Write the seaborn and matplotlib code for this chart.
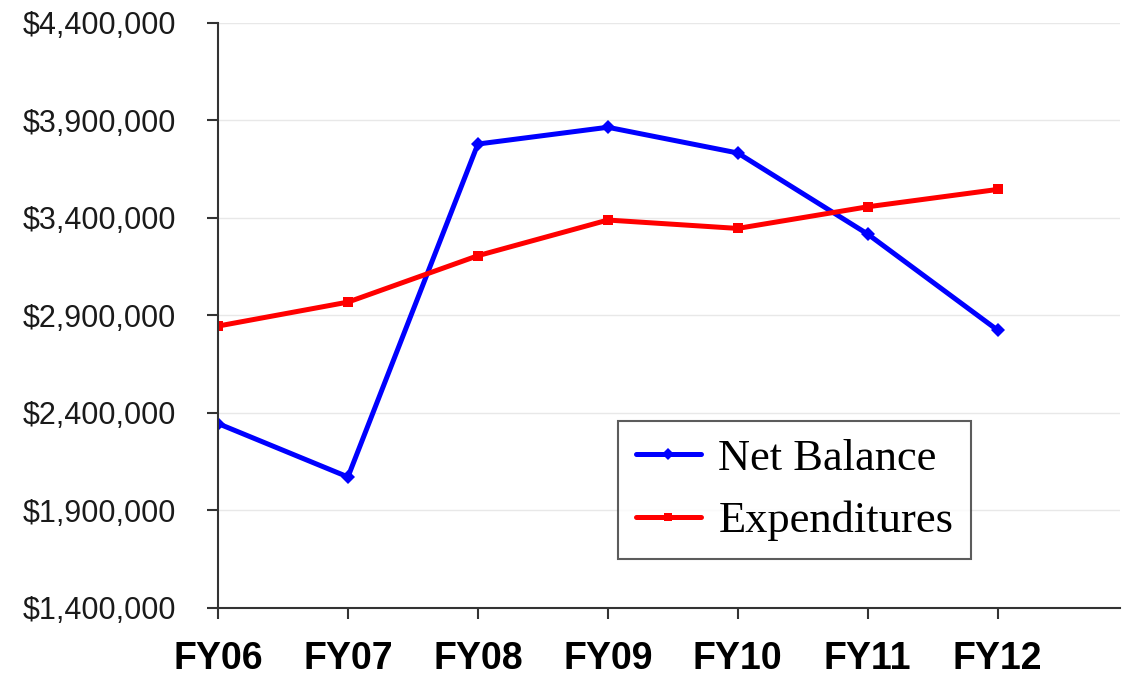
import pandas as pd
import seaborn as sns
import matplotlib.pyplot as plt
from matplotlib.ticker import FuncFormatter

# --- Data ---
years = ["FY06", "FY07", "FY08", "FY09", "FY10", "FY11", "FY12"]
net_balance = [2345000, 2071000, 3779000, 3865000, 3733000, 3317000, 2824000]
expenditures = [2845000, 2968000, 3206000, 3389000, 3346000, 3457000, 3546000]
y_ticks = [1400000, 1900000, 2400000, 2900000, 3400000, 3900000, 4400000]

df = pd.DataFrame({
    "year": years * 2,
    "pos": list(range(len(years))) * 2,
    "value": net_balance + expenditures,
    "series": ["Net Balance"] * len(years) + ["Expenditures"] * len(years),
})

sns.set_style("white")
plt.rcParams['font.family'] = ['Liberation Sans', 'DejaVu Sans']

fig = plt.figure(figsize=(11.22, 6.76), dpi=100)
ax = fig.add_axes([0.1943, 0.101, 0.8037, 0.865])

palette = {"Net Balance": "#0000FF", "Expenditures": "#FF0000"}
markers = {"Net Balance": "D", "Expenditures": "s"}
sns.lineplot(data=df, x="pos", y="value", hue="series", style="series",
             palette=palette, markers=markers, dashes=False, linewidth=3.6,
             markersize=7.5, markeredgewidth=0, ax=ax)

ax.set_xlim(0, 6.94)
ax.set_ylim(1400000, 4400000)
ax.set_yticks(y_ticks)
ax.yaxis.set_major_formatter(FuncFormatter(lambda v, p: f"${v:,.0f}"))
ax.set_xticks(range(len(years)))
ax.set_xticklabels(years, fontsize=27, fontweight="bold")
ax.tick_params(axis="y", left=True, labelsize=22, direction="out", length=8,
               width=1.5, pad=22, colors="#333333", labelcolor="#1a1a1a")
ax.tick_params(axis="x", bottom=True, direction="out", length=8, width=1.5,
               pad=16, colors="#333333", labelcolor="black")
ax.grid(axis="y", color="#e8e8e8", linewidth=1)
ax.set_axisbelow(True)
for side in ["top", "right"]:
    ax.spines[side].set_visible(False)
for side in ["left", "bottom"]:
    ax.spines[side].set_color("#333333")
    ax.spines[side].set_linewidth(1.5)
ax.set_xlabel("")
ax.set_ylabel("")

leg = ax.legend(loc="lower left", bbox_to_anchor=(0.444, 0.083),
                prop={"family": "Liberation Serif", "size": 32},
                frameon=True, fancybox=False, edgecolor="#333333",
                handlelength=1.45, borderpad=0.4, labelspacing=0.5,
                handletextpad=0.4, borderaxespad=0)
leg.get_frame().set_linewidth(1.5)
for t in leg.get_texts():
    t.set_color("black")
for h in leg.legend_handles:
    h.set_markersize(6)

fig.savefig("out.png", dpi=100)
